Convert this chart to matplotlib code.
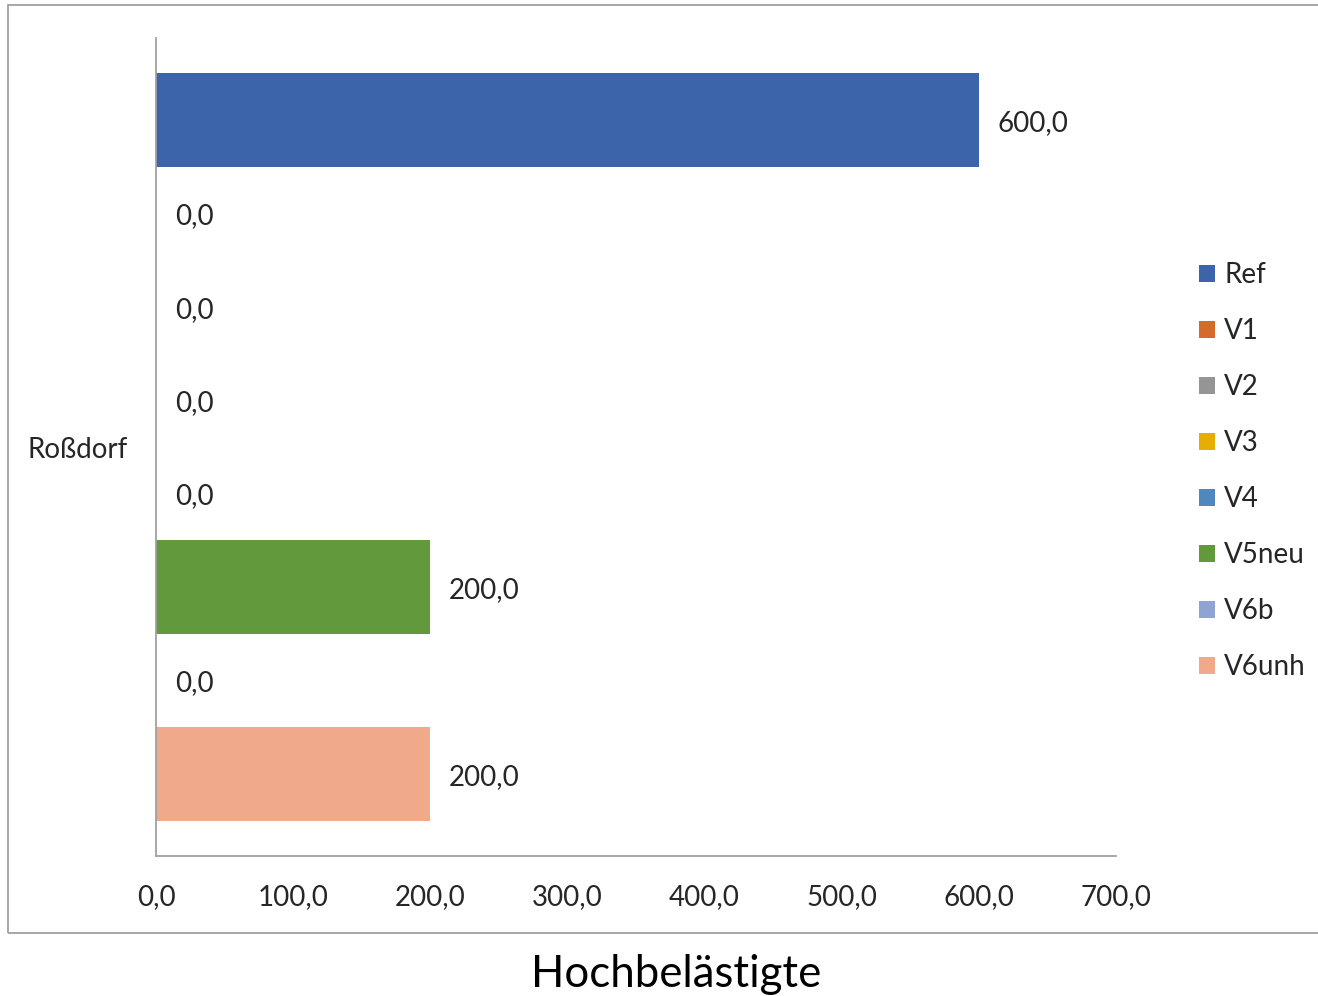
import matplotlib.pyplot as plt
from matplotlib.patches import Rectangle
from matplotlib.ticker import FuncFormatter

# Data
category = "Roßdorf"
series = ["Ref", "V1", "V2", "V3", "V4", "V5neu", "V6b", "V6unh"]
values = [600.0, 0.0, 0.0, 0.0, 0.0, 200.0, 0.0, 200.0]
colors = ["#3C64AA", "#D46B2C", "#959595", "#E6AE00",
          "#4E88BD", "#63993D", "#8FA4D3", "#F0A98A"]
x_ticks = [0, 100, 200, 300, 400, 500, 600, 700]

plt.rcParams['font.family'] = ['Lato', 'DejaVu Sans']

W, H = 1318, 996
fig = plt.figure(figsize=(W / 100, H / 100), dpi=100)
ax = fig.add_axes([156 / W, 1 - 856 / H, (1116 - 156) / W, (856 - 38) / H])

# Outer chart border (right edge runs off the picture)
fig.patches.append(Rectangle((8 / W, 1 - 933 / H), 1.2, (933 - 5) / H,
                             transform=fig.transFigure, fill=False,
                             edgecolor="#A0A0A0", linewidth=1.3))

bar_h = 0.1
n = len(series)
for i, (name, val, col) in enumerate(zip(series, values, colors)):
    y = (n - 1) / 2 * bar_h - i * bar_h
    ax.barh(y, val, height=bar_h, color=col, label=name)
    ax.annotate(f"{val:.1f}".replace(".", ","), xy=(val, y),
                xytext=(13.5, -2), textcoords="offset points",
                va="center", ha="left", fontsize=20, color="#262626")

ax.set_xlim(0, 700)
ax.set_ylim(-0.4375, 0.4375)
ax.set_xticks(x_ticks)
ax.xaxis.set_major_formatter(FuncFormatter(lambda v, p: f"{v:.1f}".replace(".", ",")))
ax.set_yticks([0])
ax.set_yticklabels([category])
ax.tick_params(axis="x", length=0, pad=20, labelsize=20, labelcolor="#262626")
ax.tick_params(axis="y", length=0, pad=20, labelsize=20, labelcolor="#262626")

for side in ["top", "right"]:
    ax.spines[side].set_visible(False)
for side in ["left", "bottom"]:
    ax.spines[side].set_color("#A0A0A0")
    ax.spines[side].set_linewidth(1.3)

fig.legend(loc="upper left", bbox_to_anchor=(1199 / W, 1 - 262 / H),
           frameon=False, fontsize=20, handlelength=0.58, handleheight=0.58,
           handletextpad=0.33, labelspacing=1.08, borderpad=0, borderaxespad=0,
           labelcolor="#262626")

fig.text(676 / W, 1 - 974 / H, "Hochbelästigte", ha="center", va="center",
         fontsize=31.5, color="black")

plt.savefig("out.png", dpi=100)
